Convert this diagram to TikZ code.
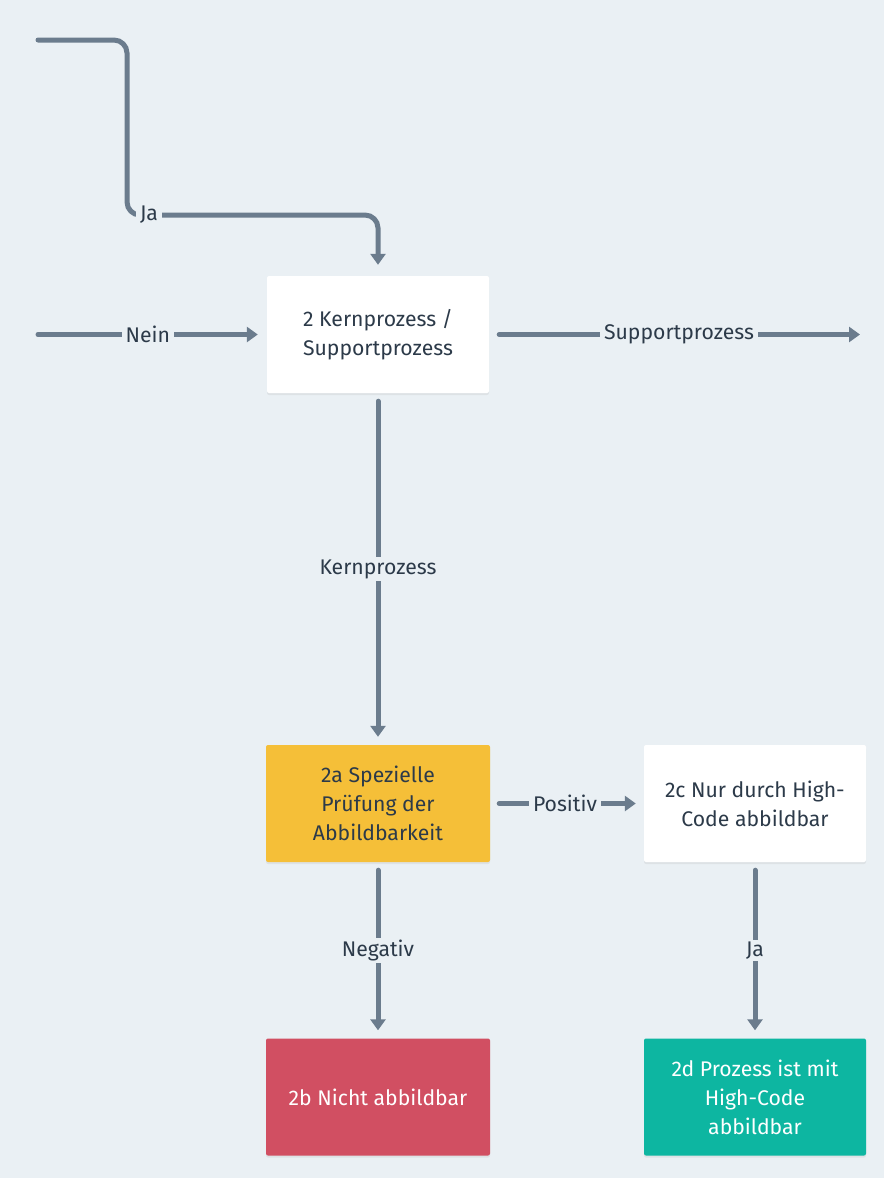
\documentclass[tikz,border=0pt]{standalone}
\usepackage{fontspec}
\setmainfont{Fira Sans}
\usetikzlibrary{arrows.meta,shadows}
\definecolor{bgcol}{HTML}{EAF0F4}
\definecolor{linecol}{HTML}{6B7C8D}
\definecolor{txtcol}{HTML}{2C3A49}
\definecolor{yelcol}{HTML}{F5BF38}
\definecolor{redcol}{HTML}{D14F62}
\definecolor{tealcol}{HTML}{0DB6A1}
\tikzset{
  box/.style={rectangle, rounded corners=2pt, minimum width=222pt, minimum height=117pt,
    align=center, inner sep=0pt, text=txtcol, fill=white,
    font=\fontsize{21.2}{29}\selectfont,
    drop shadow={opacity=0.12, shadow xshift=0pt, shadow yshift=-2pt}},
  conn/.style={draw=linecol, line width=5pt, line cap=round,
    -{Triangle[width=15pt,length=11pt]}},
  lbl/.style={fill=bgcol, text=txtcol, inner xsep=4pt, inner ysep=2pt,
    font=\fontsize{21.2}{24}\selectfont}
}
\begin{document}
\begin{tikzpicture}[x=1pt,y=-1pt]
  \fill[bgcol] (0,0) rectangle (884,1178);
  \useasboundingbox (0,0) rectangle (884,1178);

  % process boxes
  \node[box] (k) at (378,334.5) {2 Kernprozess /\\Supportprozess};
  \node[box, minimum width=224pt, fill=yelcol] (a) at (378,803.5) {2a Spezielle\\Prüfung der\\Abbildbarkeit};
  \node[box] (c) at (755,803.5) {2c Nur durch High-\\Code abbildbar};
  \node[box, minimum width=224pt, fill=redcol, text=white] (b) at (378,1097) {2b Nicht abbildbar};
  \node[box, fill=tealcol, text=white] (d) at (755,1097) {2d Prozess ist mit\\High-Code\\abbildbar};

  % loose ends of incoming / outgoing lines
  \coordinate (ja0) at (38,40);
  \coordinate (jaturn) at (127,215);
  \coordinate (nein0) at (38,334.5);
  \coordinate (sup1) at (860,334.5);

  % incoming "Ja" branch
  \draw[conn, rounded corners=13pt, shorten >=11pt] (ja0) -| (jaturn) -| (k.north);
  \node[lbl] (jalbl) at (149,215) {Ja};

  % incoming "Nein" branch
  \draw[conn, shorten >=9pt] (nein0) -- node[lbl, pos=0.48] (neinlbl) {Nein} (k.west);

  % outgoing support process
  \draw[conn, shorten <=10pt] (k.east) -- node[lbl, pos=0.512] (suplbl) {Supportprozess} (sup1);

  % core process
  \draw[conn, shorten <=8pt, shorten >=8pt] (k.south) -- node[lbl] (kernlbl) {Kernprozess} (a.north);

  % outcomes of the special check
  \draw[conn, shorten <=9pt, shorten >=8pt] (a.east) -- node[lbl, pos=0.487] (poslbl) {Positiv} (c.west);
  \draw[conn, shorten <=8pt, shorten >=8pt] (a.south) -- node[lbl] (neglbl) {Negativ} (b.north);
  \draw[conn, shorten <=8pt, shorten >=8pt] (c.south) -- node[lbl] (ja2lbl) {Ja} (d.north);
\end{tikzpicture}
\end{document}
